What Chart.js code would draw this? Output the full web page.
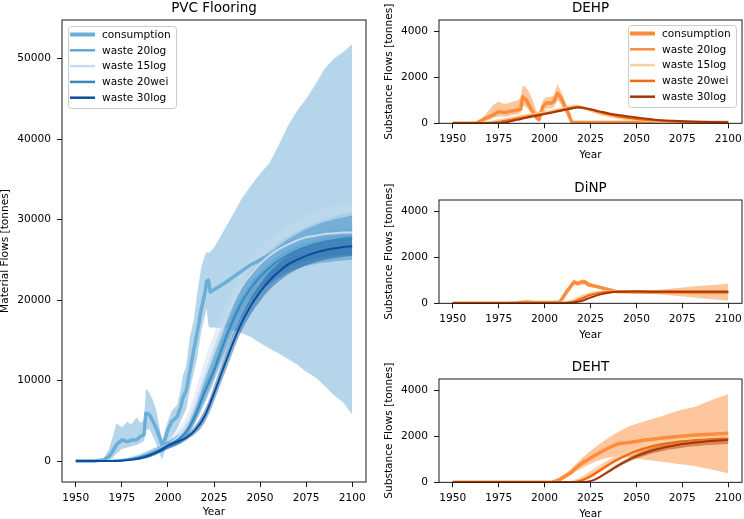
<!DOCTYPE html>
<html>
<head>
<meta charset="utf-8">
<script src="https://cdn.jsdelivr.net/npm/chart.js@4.4.0/dist/chart.umd.min.js"></script>
<style>
  html, body { margin: 0; padding: 0; background: #fff; width: 744px; height: 519px; overflow: hidden; }
  canvas { position: absolute; }
</style>
</head>
<body>
<canvas id="pvc" width="372" height="519" style="left:0;top:0"></canvas>
<canvas id="dehp" width="372" height="173" style="left:372px;top:0"></canvas>
<canvas id="dinp" width="372" height="173" style="left:372px;top:180px"></canvas>
<canvas id="deht" width="372" height="173" style="left:372px;top:359px"></canvas>
<script>
// ---- shared labels / ticks ----
const seriesNames = ['consumption', 'waste 20log', 'waste 15log', 'waste 20wei', 'waste 30log'];
const blues = ['#6baed6', '#62a8d4', '#c6dbef', '#3787c0', '#08509b'];
const oranges = ['#fd8d3c', '#fd8d3c', '#fdd0a2', '#f16913', '#a63603'];
const yearTicks = [1950, 1975, 2000, 2025, 2050, 2075, 2100];
const pvcTicks = [0, 10000, 20000, 30000, 40000, 50000];
const substTicks = [0, 2000, 4000];

// ---- PVC Flooring ----
const pvcConsYears = [1950, 1960, 1965, 1968, 1970, 1972, 1975, 1978, 1980, 1983,
  1985, 1987, 1988, 1990, 1992, 1994, 1996, 1997, 1998, 2000,
  2002, 2005, 2007, 2008, 2010, 2012, 2014, 2016, 2018, 2020,
  2021, 2022, 2023, 2025, 2030, 2035, 2040, 2045, 2050, 2055,
  2060, 2065, 2070, 2075, 2080, 2085, 2090, 2095, 2100];
const pvcCons = [0, 0, 150, 580, 1200, 2000, 2640, 2400, 2600, 2640,
  3050, 3260, 5950, 5740, 4900, 3880, 2640, 1800, 2440, 3880,
  4900, 5530, 6770, 7800, 8840, 11300, 13800, 16100, 18750, 20800,
  22300, 22470, 21000, 21300, 22000, 22800, 23600, 24400, 25000, 25600,
  26300, 26900, 27300, 27700, 28100, 28300, 28600, 28800, 28900];
const pvcConsLo = [0, 0, 0, 100, 400, 900, 1500, 1700, 1800, 2000,
  2200, 2500, 3800, 4000, 3000, 2000, 600, 200, 1000, 2500,
  3000, 4000, 5000, 5500, 6500, 9000, 11000, 13000, 16000, 18000,
  19000, 16700, 16600, 16600, 16500, 16300, 15900, 15400, 14700, 14000,
  13400, 12700, 12000, 11100, 10400, 9400, 8200, 7300, 5800];
const pvcConsHi = [0, 0, 300, 1500, 3000, 4700, 4200, 4900, 4500, 5400,
  4800, 5000, 9000, 8500, 7500, 6000, 3500, 2500, 3500, 5000,
  6200, 7000, 9000, 10500, 12000, 15500, 17500, 21000, 24000, 25500,
  26000, 25800, 26000, 26500, 28500, 30500, 32600, 34200, 35700, 37000,
  39200, 41600, 43500, 45000, 46800, 48700, 50000, 50800, 51800];

const pvcWasteYears = [1950, 1960, 1965, 1970, 1975, 1980, 1985, 1990, 1995, 2000,
  2005, 2010, 2015, 2020, 2025, 2030, 2035, 2040, 2045, 2050,
  2055, 2060, 2065, 2070, 2075, 2080, 2085, 2090, 2095, 2100];
const pvcW20log = [0, 0, 0, 30, 120, 300, 550, 950, 1450, 2050,
  2700, 3800, 6000, 9000, 11700, 14900, 17800, 20200, 21900, 23300,
  24400, 25300, 26000, 26600, 27000, 27300, 27600, 27800, 27900, 28000];
const pvcW15log = [0, 0, 0, 50, 150, 350, 600, 1000, 1500, 2100,
  2900, 4300, 7000, 10500, 13800, 16900, 19600, 21700, 23200, 24500,
  25500, 26300, 26900, 27400, 27800, 28000, 28200, 28300, 28400, 28400];
const pvcW20wei = [0, 0, 0, 20, 100, 280, 520, 900, 1400, 2000,
  2600, 3600, 5700, 8600, 11200, 14400, 17300, 19700, 21500, 22900,
  24000, 24900, 25600, 26200, 26600, 27000, 27200, 27400, 27500, 27600];
const pvcW30log = [0, 0, 0, 0, 30, 150, 350, 700, 1200, 1900,
  2400, 2900, 3900, 5600, 8400, 11500, 14500, 17200, 19300, 21000,
  22400, 23500, 24400, 25000, 25500, 25900, 26200, 26400, 26600, 26700];

const pvcBandYears = [1950, 1970, 1980, 1990, 2000, 2010, 2020, 2030, 2040, 2050, 2060, 2070, 2080, 2090, 2100];
const pvcW20logLo = [0, 0, 150, 600, 1600, 3000, 7600, 13300, 18500, 21600, 23400, 24500, 25200, 25500, 25700];
const pvcW20logHi = [0, 80, 450, 1300, 2500, 4600, 10500, 16600, 21900, 25000, 27100, 28500, 29600, 30400, 30900];
const pvcW15logLo = [0, 0, 200, 700, 1700, 3400, 9000, 15500, 20300, 23000, 24600, 25500, 26000, 26300, 26500];
const pvcW15logHi = [0, 150, 600, 1400, 2700, 5500, 12500, 18800, 23500, 26500, 28500, 30000, 31000, 31700, 32200];
const pvcW20weiLo = [0, 0, 120, 550, 1500, 2900, 7200, 12700, 17800, 20900, 22800, 23900, 24500, 24800, 25000];
const pvcW20weiHi = [0, 60, 420, 1250, 2450, 4400, 10100, 16100, 21400, 24600, 26700, 28200, 29300, 30000, 30500];
const pvcW30logLo = [0, 0, 50, 450, 1500, 2600, 4800, 10400, 16200, 19900, 22300, 23800, 24700, 25200, 25500];
const pvcW30logHi = [0, 20, 250, 950, 2300, 3200, 6400, 12600, 18200, 22000, 24600, 26200, 27100, 27600, 27900];

// ---- DEHP ----
const dehpConsYears = [1950, 1963, 1965, 1968, 1970, 1972, 1975, 1977, 1979, 1981,
  1983, 1985, 1987, 1988, 1990, 1992, 1994, 1996, 1997, 1999,
  2001, 2003, 2005, 2007, 2009, 2011, 2013, 2014, 2015, 2020, 2050, 2100];
const dehpCons = [0, 0, 100, 220, 290, 360, 510, 480, 470, 520,
  550, 580, 610, 1160, 1020, 730, 440, 220, 175, 730,
  900, 870, 950, 1310, 1090, 730, 440, 200, 30, 30, 30, 30];
const dehpConsLo = [0, 0, 0, 100, 150, 250, 300, 300, 300, 330,
  380, 400, 450, 800, 700, 500, 250, 100, 50, 400,
  650, 650, 700, 1000, 850, 500, 250, 80, 0, 0, 0, 0];
const dehpConsHi = [0, 0, 150, 400, 600, 800, 950, 870, 850, 900,
  950, 1000, 1100, 1650, 1550, 1300, 900, 450, 300, 1000,
  1150, 1150, 1200, 1700, 1400, 1000, 650, 350, 60, 60, 60, 60];
const dehpWasteYears = [1950, 1960, 1965, 1970, 1975, 1980, 1985, 1990, 1995, 2000,
  2005, 2010, 2015, 2018, 2020, 2025, 2030, 2035, 2040, 2050, 2060, 2070, 2080, 2090, 2100];
const dehpW20log = [0, 0, 5, 30, 90, 170, 250, 320, 390, 460, 540, 630, 710, 730, 700, 570, 450, 350, 270, 160, 100, 60, 40, 25, 15];
const dehpW15log = [0, 0, 10, 50, 120, 200, 280, 350, 420, 480, 560, 650, 730, 740, 700, 550, 420, 320, 240, 140, 80, 50, 30, 20, 10];
const dehpW20wei = [0, 0, 0, 15, 60, 130, 210, 290, 360, 430, 510, 600, 690, 720, 700, 590, 480, 380, 300, 190, 120, 75, 50, 30, 20];
const dehpW30log = [0, 0, 0, 0, 0, 60, 150, 240, 320, 400, 480, 570, 650, 690, 680, 610, 520, 430, 360, 250, 160, 110, 75, 55, 45];
const dehpW15logLo = [0, 0, 0, 20, 80, 150, 220, 290, 350, 410, 480, 560, 640, 660, 630, 480, 350, 260, 190, 100, 50, 30, 15, 5, 0];
const dehpW15logHi = [0, 0, 20, 80, 160, 250, 340, 420, 490, 560, 640, 740, 820, 830, 780, 620, 490, 380, 290, 180, 110, 70, 45, 30, 20];

// ---- DiNP ----
const dinpConsYears = [1950, 1980, 1985, 1990, 1993, 1995, 2000, 2005, 2008, 2009, 2012, 2016,
  2018, 2020, 2022, 2024, 2028, 2035, 2039, 2050, 2064, 2082, 2100];
const dinpCons = [0, 0, 20, 60, 50, 30, 30, 40, 60, 130, 500, 930, 860, 930, 930, 810, 740, 595, 520, 490, 490, 480, 480];
const dinpConsLo = [0, 0, 0, 30, 20, 10, 10, 20, 30, 80, 400, 820, 760, 820, 820, 720, 670, 540, 480, 460, 380, 240, 110];
const dinpConsHi = [0, 0, 40, 90, 80, 60, 60, 70, 90, 180, 600, 1040, 960, 1040, 1040, 900, 810, 650, 560, 520, 600, 740, 850];
const dinpWasteYears = [1950, 2000, 2005, 2010, 2015, 2020, 2025, 2030, 2035, 2040, 2050, 2060, 2070, 2080, 2090, 2100];
const dinpW20log = [0, 0, 5, 20, 90, 250, 400, 480, 520, 530, 520, 510, 500, 500, 500, 500];
const dinpW15log = [0, 0, 10, 30, 120, 300, 440, 510, 540, 540, 520, 510, 500, 500, 500, 500];
const dinpW20wei = [0, 0, 0, 10, 60, 200, 360, 450, 500, 520, 515, 505, 500, 500, 500, 500];
const dinpW30log = [0, 0, 0, 0, 20, 100, 250, 380, 460, 500, 510, 505, 500, 500, 500, 500];
const dinpW15logLo = [0, 0, 0, 10, 80, 240, 380, 460, 500, 510, 500, 490, 480, 480, 480, 480];
const dinpW15logHi = [0, 0, 20, 50, 160, 360, 500, 560, 580, 570, 540, 530, 520, 520, 520, 520];

// ---- DEHT ----
const dehtConsYears = [1950, 2004, 2008, 2011, 2014, 2017, 2021, 2024, 2028, 2033,
  2036, 2040, 2046, 2055, 2064, 2073, 2082, 2091, 2100];
const dehtCons = [0, 0, 115, 250, 400, 620, 870, 1010, 1200, 1420, 1550, 1680, 1740, 1850, 1930, 2000, 2070, 2100, 2140];
const dehtConsLo = [0, 0, 40, 150, 300, 480, 650, 780, 920, 1050, 1100, 1130, 1080, 980, 900, 800, 700, 560, 400];
const dehtConsHi = [0, 0, 200, 380, 550, 800, 1100, 1300, 1550, 1850, 2000, 2200, 2450, 2680, 2900, 3130, 3300, 3590, 3850];
const dehtWasteYears = [1950, 2010, 2015, 2020, 2025, 2030, 2035, 2040, 2045, 2050,
  2055, 2060, 2065, 2070, 2075, 2080, 2085, 2090, 2095, 2100];
const dehtW20log = [0, 0, 10, 110, 300, 560, 810, 1030, 1220, 1390, 1520, 1630, 1710, 1770, 1820, 1860, 1890, 1910, 1930, 1940];
const dehtW15log = [0, 0, 30, 180, 420, 680, 920, 1140, 1320, 1480, 1600, 1700, 1770, 1830, 1870, 1900, 1930, 1950, 1960, 1970];
const dehtW20wei = [0, 0, 5, 80, 250, 500, 760, 990, 1190, 1360, 1490, 1600, 1680, 1740, 1790, 1830, 1860, 1880, 1900, 1910];
const dehtW30log = [0, 0, 0, 10, 50, 230, 480, 730, 950, 1140, 1290, 1420, 1520, 1600, 1670, 1720, 1760, 1800, 1830, 1850];
const dehtW15logLo = [0, 0, 10, 140, 360, 600, 840, 1050, 1230, 1380, 1500, 1600, 1670, 1730, 1770, 1800, 1830, 1850, 1860, 1870];
const dehtW15logHi = [0, 0, 60, 240, 500, 770, 1010, 1230, 1410, 1580, 1700, 1800, 1870, 1930, 1970, 2000, 2030, 2050, 2060, 2070];
const dehtW30logLo = [0, 0, 0, 0, 30, 190, 420, 650, 860, 1030, 1170, 1290, 1380, 1450, 1510, 1560, 1600, 1630, 1650, 1670];
const dehtW30logHi = [0, 0, 0, 20, 80, 280, 540, 810, 1040, 1250, 1410, 1550, 1660, 1750, 1830, 1880, 1920, 1960, 1990, 2010];

const FONT = '"DejaVu Sans", sans-serif';

function pts(years, vals) {
  return years.map((x, i) => ({ x: x, y: vals[i] }));
}

function rgba(hex, a) {
  const n = parseInt(hex.slice(1), 16);
  return `rgba(${(n >> 16) & 255},${(n >> 8) & 255},${n & 255},${a})`;
}

function bandSets(years, lo, hi, color, smooth, alpha) {
  const common = { pointRadius: 0, borderWidth: 0, cubicInterpolationMode: smooth ? 'monotone' : 'default', tension: 0 };
  return [
    Object.assign({ data: pts(years, lo), fill: false }, common),
    Object.assign({ data: pts(years, hi), fill: '-1', backgroundColor: rgba(color, alpha) }, common)
  ];
}

function lineSet(years, vals, color, width, smooth) {
  return {
    data: pts(years, vals), borderColor: color, borderWidth: width, pointRadius: 0, fill: false,
    cubicInterpolationMode: smooth ? 'monotone' : 'default', tension: 0, borderJoinStyle: 'round'
  };
}

// draw order: all bands first (consumption, then waste), then the lines on top
function panelDatasets(p, colors) {
  const seq = [];
  seq.push(...bandSets(p.consYears, p.consLo, p.consHi, colors[0], false, 0.5));
  p.bands.forEach((b, i) => {
    if (b) seq.push(...bandSets(p.bandYears, b[0], b[1], colors[i + 1], true, 0.45));
  });
  seq.push(lineSet(p.consYears, p.cons, colors[0], 3.5, false));
  p.waste.forEach((w, i) => {
    seq.push(lineSet(p.wasteYears, w, colors[i + 1], 2, true));
  });
  seq.forEach((d, i) => { d.order = seq.length - i; });
  return seq;
}

const frame = {
  id: 'frame',
  afterDatasetsDraw(chart) {
    const { ctx, chartArea: a } = chart;
    ctx.save();
    ctx.strokeStyle = '#000';
    ctx.lineWidth = 0.9;
    ctx.strokeRect(a.left, a.top, a.right - a.left, a.bottom - a.top);
    ctx.restore();
  }
};

const legendBox = {
  id: 'legendBox',
  afterDraw(chart, args, opts) {
    if (!opts.colors) return;
    const { ctx, chartArea: a } = chart;
    const w = 108, h = 82;
    const x0 = opts.side === 'right' ? a.right - 6 - w : a.left + 6;
    const y0 = a.top + opts.top;
    ctx.save();
    ctx.fillStyle = 'rgba(255,255,255,0.8)';
    ctx.strokeStyle = '#cccccc';
    ctx.lineWidth = 1;
    ctx.beginPath();
    ctx.roundRect(x0 + 0.5, y0 + 0.5, w, h, 3);
    ctx.fill();
    ctx.stroke();
    ctx.font = '10.6px ' + FONT;
    ctx.textBaseline = 'middle';
    seriesNames.forEach((name, i) => {
      const y = y0 + 8.5 + i * 15.8;
      ctx.strokeStyle = opts.colors[i];
      ctx.lineWidth = i === 0 ? 4 : 2.5;
      ctx.beginPath();
      ctx.moveTo(x0 + 2, y);
      ctx.lineTo(x0 + 27, y);
      ctx.stroke();
      ctx.fillStyle = '#000';
      ctx.fillText(name, x0 + 34, y + 0.5);
    });
    ctx.restore();
  }
};

function makeChart(id, p, colors, cfg) {
  new Chart(document.getElementById(id), {
    type: 'line',
    data: { datasets: panelDatasets(p, colors) },
    options: {
      responsive: false,
      animation: false,
      events: [],
      layout: { padding: { left: 0, right: cfg.padRight, top: 0, bottom: 0 } },
      plugins: {
        legend: { display: false },
        tooltip: { enabled: false },
        title: {
          display: true, text: cfg.title, color: '#000', fullSize: false,
          font: { family: FONT, size: 13.5, weight: 'normal' },
          padding: { top: 0, bottom: 20 - 16.2 }
        },
        legendBox: cfg.legend || {}
      },
      scales: {
        x: {
          type: 'linear', min: 1942.5, max: 2107.5,
          afterBuildTicks: s => { s.ticks = yearTicks.map(v => ({ value: v })); },
          afterFit: s => { s.height = cfg.xHeight; s.paddingLeft = 0; s.paddingRight = 0; },
          ticks: { callback: v => String(v), color: '#000', font: { family: FONT, size: 10.6 }, padding: 5, maxRotation: 0, autoSkip: false },
          grid: { display: true, drawOnChartArea: false, drawTicks: true, tickLength: 5, color: '#000', lineWidth: 0.9 },
          border: { display: false },
          title: { display: true, text: 'Year', color: '#000', font: { family: FONT, size: 10.6 }, padding: { top: 0, bottom: cfg.xTitlePad } }
        },
        y: {
          type: 'linear', min: cfg.yMin, max: cfg.yMax,
          afterBuildTicks: s => { s.ticks = cfg.yTicks.map(v => ({ value: v })); },
          afterFit: s => { s.width = cfg.yWidth; s.paddingTop = 0; s.paddingBottom = 0; },
          ticks: { callback: v => String(v), color: '#000', font: { family: FONT, size: 10.6 }, padding: 6 },
          grid: { display: true, drawOnChartArea: false, drawTicks: true, tickLength: 5, color: '#000', lineWidth: 0.9 },
          border: { display: false },
          title: { display: true, text: cfg.yTitle, color: '#000', font: { family: FONT, size: 10.6 }, padding: { top: cfg.yTitlePad, bottom: 0 } }
        }
      }
    },
    plugins: [frame, legendBox]
  });
}

makeChart('pvc', {
  consYears: pvcConsYears, cons: pvcCons, consLo: pvcConsLo, consHi: pvcConsHi,
  wasteYears: pvcWasteYears, waste: [pvcW20log, pvcW15log, pvcW20wei, pvcW30log],
  bandYears: pvcBandYears,
  bands: [[pvcW20logLo, pvcW20logHi], [pvcW15logLo, pvcW15logHi], [pvcW20weiLo, pvcW20weiHi], [pvcW30logLo, pvcW30logHi]]
}, blues, {
  title: 'PVC Flooring', yTitle: 'Material Flows [tonnes]', yTicks: pvcTicks,
  yMin: -2600, yMax: 54800, yWidth: 62, xHeight: 37, padRight: 6, xTitlePad: 0, yTitlePad: -1,
  legend: { colors: blues, side: 'left', top: 6 }
});

const substCfg = { yTitle: 'Substance Flows [tonnes]', yTicks: substTicks, yMin: 0, yMax: 4510,
  yWidth: 67, xHeight: 49.7, padRight: 2, xTitlePad: 11, yTitlePad: 11 };

makeChart('dehp', {
  consYears: dehpConsYears, cons: dehpCons, consLo: dehpConsLo, consHi: dehpConsHi,
  wasteYears: dehpWasteYears, waste: [dehpW20log, dehpW15log, dehpW20wei, dehpW30log],
  bandYears: dehpWasteYears, bands: [null, [dehpW15logLo, dehpW15logHi], null, null]
}, oranges, Object.assign({ title: 'DEHP', legend: { colors: oranges, side: 'right', top: 5 } }, substCfg));

makeChart('dinp', {
  consYears: dinpConsYears, cons: dinpCons, consLo: dinpConsLo, consHi: dinpConsHi,
  wasteYears: dinpWasteYears, waste: [dinpW20log, dinpW15log, dinpW20wei, dinpW30log],
  bandYears: dinpWasteYears, bands: [null, [dinpW15logLo, dinpW15logHi], null, null]
}, oranges, Object.assign({ title: 'DiNP' }, substCfg));

makeChart('deht', {
  consYears: dehtConsYears, cons: dehtCons, consLo: dehtConsLo, consHi: dehtConsHi,
  wasteYears: dehtWasteYears, waste: [dehtW20log, dehtW15log, dehtW20wei, dehtW30log],
  bandYears: dehtWasteYears, bands: [null, [dehtW15logLo, dehtW15logHi], null, [dehtW30logLo, dehtW30logHi]]
}, oranges, Object.assign({ title: 'DEHT' }, substCfg));
</script>
</body>
</html>
